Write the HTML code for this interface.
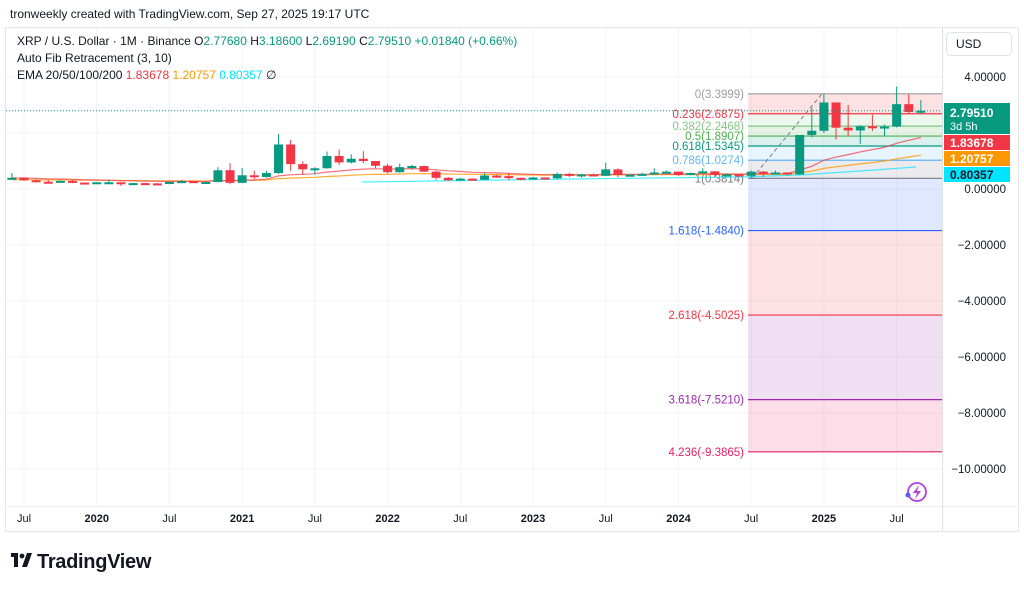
<!DOCTYPE html>
<html><head><meta charset="utf-8">
<style>
body{margin:0;background:#fff;width:1024px;height:591px;overflow:hidden;font-family:"Liberation Sans",sans-serif;}
svg{position:absolute;left:0;top:0}
</style></head>
<body>
<svg id="s" width="1024" height="591" xmlns="http://www.w3.org/2000/svg" font-family="Liberation Sans, sans-serif"></svg>
<script>
const s=document.getElementById('s');let h='';
const Y=v=>189-28*v;
const X=m=>24+12.12*(m-6);
h+='<rect x="5.5" y="27.5" width="1013" height="504" fill="#fff" stroke="#e6e6e6"/>';
h+='<text x="10" y="18" font-size="12" fill="#131722">tronweekly created with TradingView.com, Sep 27, 2025 19:17 UTC</text>';
[4,2,0,-2,-4,-6,-8,-10].forEach(v=>h+=`<line x1="6" x2="942" y1="${Y(v)}" y2="${Y(v)}" stroke="#f4f4f4"/>`);
const xl=[["Jul",6],["2020",12],["Jul",18],["2021",24],["Jul",30],["2022",36],["Jul",42],["2023",48],["Jul",54],["2024",60],["Jul",66],["2025",72],["Jul",78]];
xl.forEach(([t,m])=>{h+=`<line x1="${X(m)}" x2="${X(m)}" y1="28" y2="506" stroke="#f4f4f4"/>`;h+=`<text x="${X(m)}" y="522" font-size="11" fill="#131722" text-anchor="middle" ${t.length>3?'font-weight="bold"':''}>${t}</text>`});
h+='<line x1="942.5" x2="942.5" y1="28" y2="531" stroke="#e0e0e0"/><line x1="6" x2="1018" y1="506.5" y2="506.5" stroke="#eee"/>';
const fx=748,fw=194;
const fib=[[0,3.3999,'#9e9e9e'],[0.236,2.6875,'#f23645'],[0.382,2.2468,'#81c784'],[0.5,1.8907,'#4caf50'],[0.618,1.5345,'#089981'],[0.786,1.0274,'#64b5f6'],[1,0.3814,'#787b86'],[1.618,-1.484,'#2962ff'],[2.618,-4.5025,'#f23645'],[3.618,-7.521,'#9c27b0'],[4.236,-9.3865,'#e91e63']];
const fills=['rgba(242,54,69,.15)','rgba(129,199,132,.15)','rgba(76,175,80,.15)','rgba(8,153,129,.15)','rgba(100,181,246,.15)','rgba(120,123,134,.15)','rgba(41,98,255,.15)','rgba(242,54,69,.15)','rgba(156,39,176,.15)','rgba(233,30,99,.15)'];
for(let i=0;i<fib.length-1;i++){h+=`<rect x="${fx}" y="${Y(fib[i][1])}" width="${fw}" height="${Y(fib[i+1][1])-Y(fib[i][1])}" fill="${fills[i]}"/>`}
fib.forEach(([r,v,c])=>{h+=`<line x1="${fx}" x2="942" y1="${Y(v)}" y2="${Y(v)}" stroke="${c}" stroke-width="1.2"/>`;
 h+=`<text x="744" y="${Y(v)+4}" font-size="11.5" fill="${c}" text-anchor="end">${r}(${v.toFixed(4)})</text>`});
h+=`<line x1="752" y1="${Y(0.38)}" x2="822" y2="${Y(3.4)}" stroke="#787b86" stroke-dasharray="4,3"/>`;
const d=[[.38,.57,.37,.40],[.40,.42,.29,.31],[.31,.34,.25,.26],[.26,.32,.22,.24],[.24,.31,.24,.29],[.29,.31,.21,.23],[.23,.23,.18,.19],[.19,.25,.19,.24],[.24,.34,.23,.24],[.24,.24,.11,.17],[.17,.22,.17,.21],[.21,.22,.19,.20],[.20,.21,.17,.18],[.18,.26,.17,.25],[.25,.32,.25,.28],[.28,.28,.21,.24],[.24,.26,.23,.25],[.25,.78,.24,.67],[.67,.92,.17,.22],[.22,.75,.21,.49],[.49,.65,.35,.43],[.43,.65,.40,.57],[.57,1.96,.54,1.59],[1.59,1.75,.65,.89],[.89,.99,.51,.70],[.70,.78,.51,.74],[.74,1.34,.73,1.18],[1.18,1.41,.86,.95],[.95,1.24,.91,1.08],[1.08,1.35,.92,1.00],[1.00,1.00,.75,.83],[.83,.90,.55,.60],[.60,.91,.58,.78],[.78,.86,.69,.82],[.82,.83,.60,.62],[.62,.66,.33,.40],[.40,.43,.29,.31],[.31,.39,.30,.37],[.37,.38,.31,.33],[.33,.56,.32,.48],[.48,.50,.40,.46],[.46,.56,.32,.40],[.40,.41,.31,.34],[.34,.43,.34,.41],[.41,.42,.36,.38],[.38,.58,.35,.54],[.54,.58,.43,.47],[.47,.54,.41,.52],[.52,.56,.45,.47],[.47,.94,.46,.70],[.70,.74,.42,.50],[.50,.53,.47,.51],[.51,.58,.47,.54],[.54,.74,.54,.59],[.59,.67,.57,.62],[.62,.62,.47,.50],[.50,.59,.49,.57],[.57,.74,.55,.63],[.63,.64,.42,.50],[.50,.55,.46,.52],[.52,.52,.43,.47],[.47,.66,.38,.62],[.62,.64,.43,.56],[.56,.66,.53,.59],[.59,.59,.49,.52],[.52,1.63,.50,1.93],[1.93,2.9,1.85,2.08],[2.08,3.4,2.0,3.09],[3.09,3.0,1.77,2.19],[2.19,3.0,1.9,2.09],[2.09,2.28,1.61,2.24],[2.24,2.65,2.07,2.17],[2.17,2.3,1.9,2.23],[2.23,3.66,2.2,3.03],[3.03,3.38,2.7,2.75],[2.75,3.18,2.69,2.795]];
const m0=5;
function ema(n,init){let e=init,pts=[];d.forEach((c,i)=>{e=e+(c[3]-e)*2/(n+1);pts.push(X(m0+i).toFixed(1)+','+Y(e).toFixed(1))});return pts}
const e20=ema(20,.40),e50=ema(50,.33);
h+=`<polyline points="${e50.join(' ')}" fill="none" stroke="#ff9800" stroke-width="1.2" opacity=".8"/>`;
h+=`<polyline points="${e20.join(' ')}" fill="none" stroke="#f23645" stroke-width="1.2" opacity=".7"/>`;
h+=`<polyline points="362,182 500,180 650,178 740,177 800,175 860,171 916,167" fill="none" stroke="#00e5ff" stroke-width="1.2" opacity=".7"/>`;
d.forEach((c,i)=>{const x=X(m0+i),[o,hi,lo,cl]=c,col=cl>=o?'#089981':'#f23645';
 const t=Y(Math.max(o,cl)),b=Y(Math.min(o,cl));
 h+=`<line x1="${x}" x2="${x}" y1="${Y(hi)}" y2="${Y(lo)}" stroke="${col}"/>`;
 h+=`<rect x="${x-4.5}" y="${t}" width="9" height="${Math.max(2,b-t)}" fill="${col}"/>`});
h+=`<line x1="6" x2="942" y1="${Y(2.795)}" y2="${Y(2.795)}" stroke="#089981" stroke-dasharray="1,2"/>`;
[[4,'4.00000'],[0,'0.00000'],[-2,'−2.00000'],[-4,'−4.00000'],[-6,'−6.00000'],[-8,'−8.00000'],[-10,'−10.00000']].forEach(([v,t])=>h+=`<text x="1006" y="${Y(v)+4}" font-size="11.5" fill="#131722" text-anchor="end">${t}</text>`);
h+='<rect x="944" y="103" width="66" height="31" fill="#089981"/><text x="950" y="117" font-size="12" font-weight="bold" fill="#fff">2.79510</text><text x="950" y="130" font-size="11" fill="#fff">3d 5h</text>';
h+='<rect x="944" y="135" width="66" height="15" fill="#f23645"/><text x="950" y="147" font-size="12" font-weight="bold" fill="#fff">1.83678</text>';
h+='<rect x="944" y="151" width="66" height="15" fill="#ff9800"/><text x="950" y="163" font-size="12" font-weight="bold" fill="#fff">1.20757</text>';
h+='<rect x="944" y="167" width="66" height="15" fill="#00e5ff"/><text x="950" y="179" font-size="12" font-weight="bold" fill="#131722">0.80357</text>';
h+='<rect x="946.5" y="32.5" width="65" height="23" rx="4" fill="#fff" stroke="#e0e3eb"/><text x="956" y="48" font-size="12" fill="#131722">USD</text>';
h+='<text x="17" y="45" font-size="12" fill="#131722">XRP / U.S. Dollar · 1M · Binance <tspan fill="#131722">O</tspan><tspan fill="#089981">2.77680</tspan> <tspan>H</tspan><tspan fill="#089981">3.18600</tspan> <tspan>L</tspan><tspan fill="#089981">2.69190</tspan> <tspan>C</tspan><tspan fill="#089981">2.79510 +0.01840 (+0.66%)</tspan></text>';
h+='<text x="17" y="62" font-size="12" fill="#131722">Auto Fib Retracement (3, 10)</text>';
h+='<text x="17" y="79" font-size="12" fill="#131722">EMA 20/50/100/200 <tspan fill="#f23645">1.83678</tspan> <tspan fill="#ff9800">1.20757</tspan> <tspan fill="#00e5ff">0.80357</tspan> ∅</text>';
h+='<circle cx="917" cy="492" r="9" fill="none" stroke="#b23fe0" stroke-width="1.8"/><path d="M919 485 L913 493 L917 493 L915 499 L921 491 L917 491 Z" fill="#b23fe0"/><circle cx="908" cy="495" r="2.5" fill="#5b5bf5"/>';
h+='<rect x="11" y="553" width="7" height="4" fill="#131722"/><rect x="14" y="553" width="4" height="14" fill="#131722"/><circle cx="22" cy="556" r="2.4" fill="#131722"/><path d="M27 553 L32 553 L27 567 L22 567 Z" fill="#131722"/>';
h+='<text x="37" y="568" font-size="20" font-weight="bold" fill="#131722" letter-spacing="-0.3">TradingView</text>';
s.innerHTML=h;
</script>
</body></html>
